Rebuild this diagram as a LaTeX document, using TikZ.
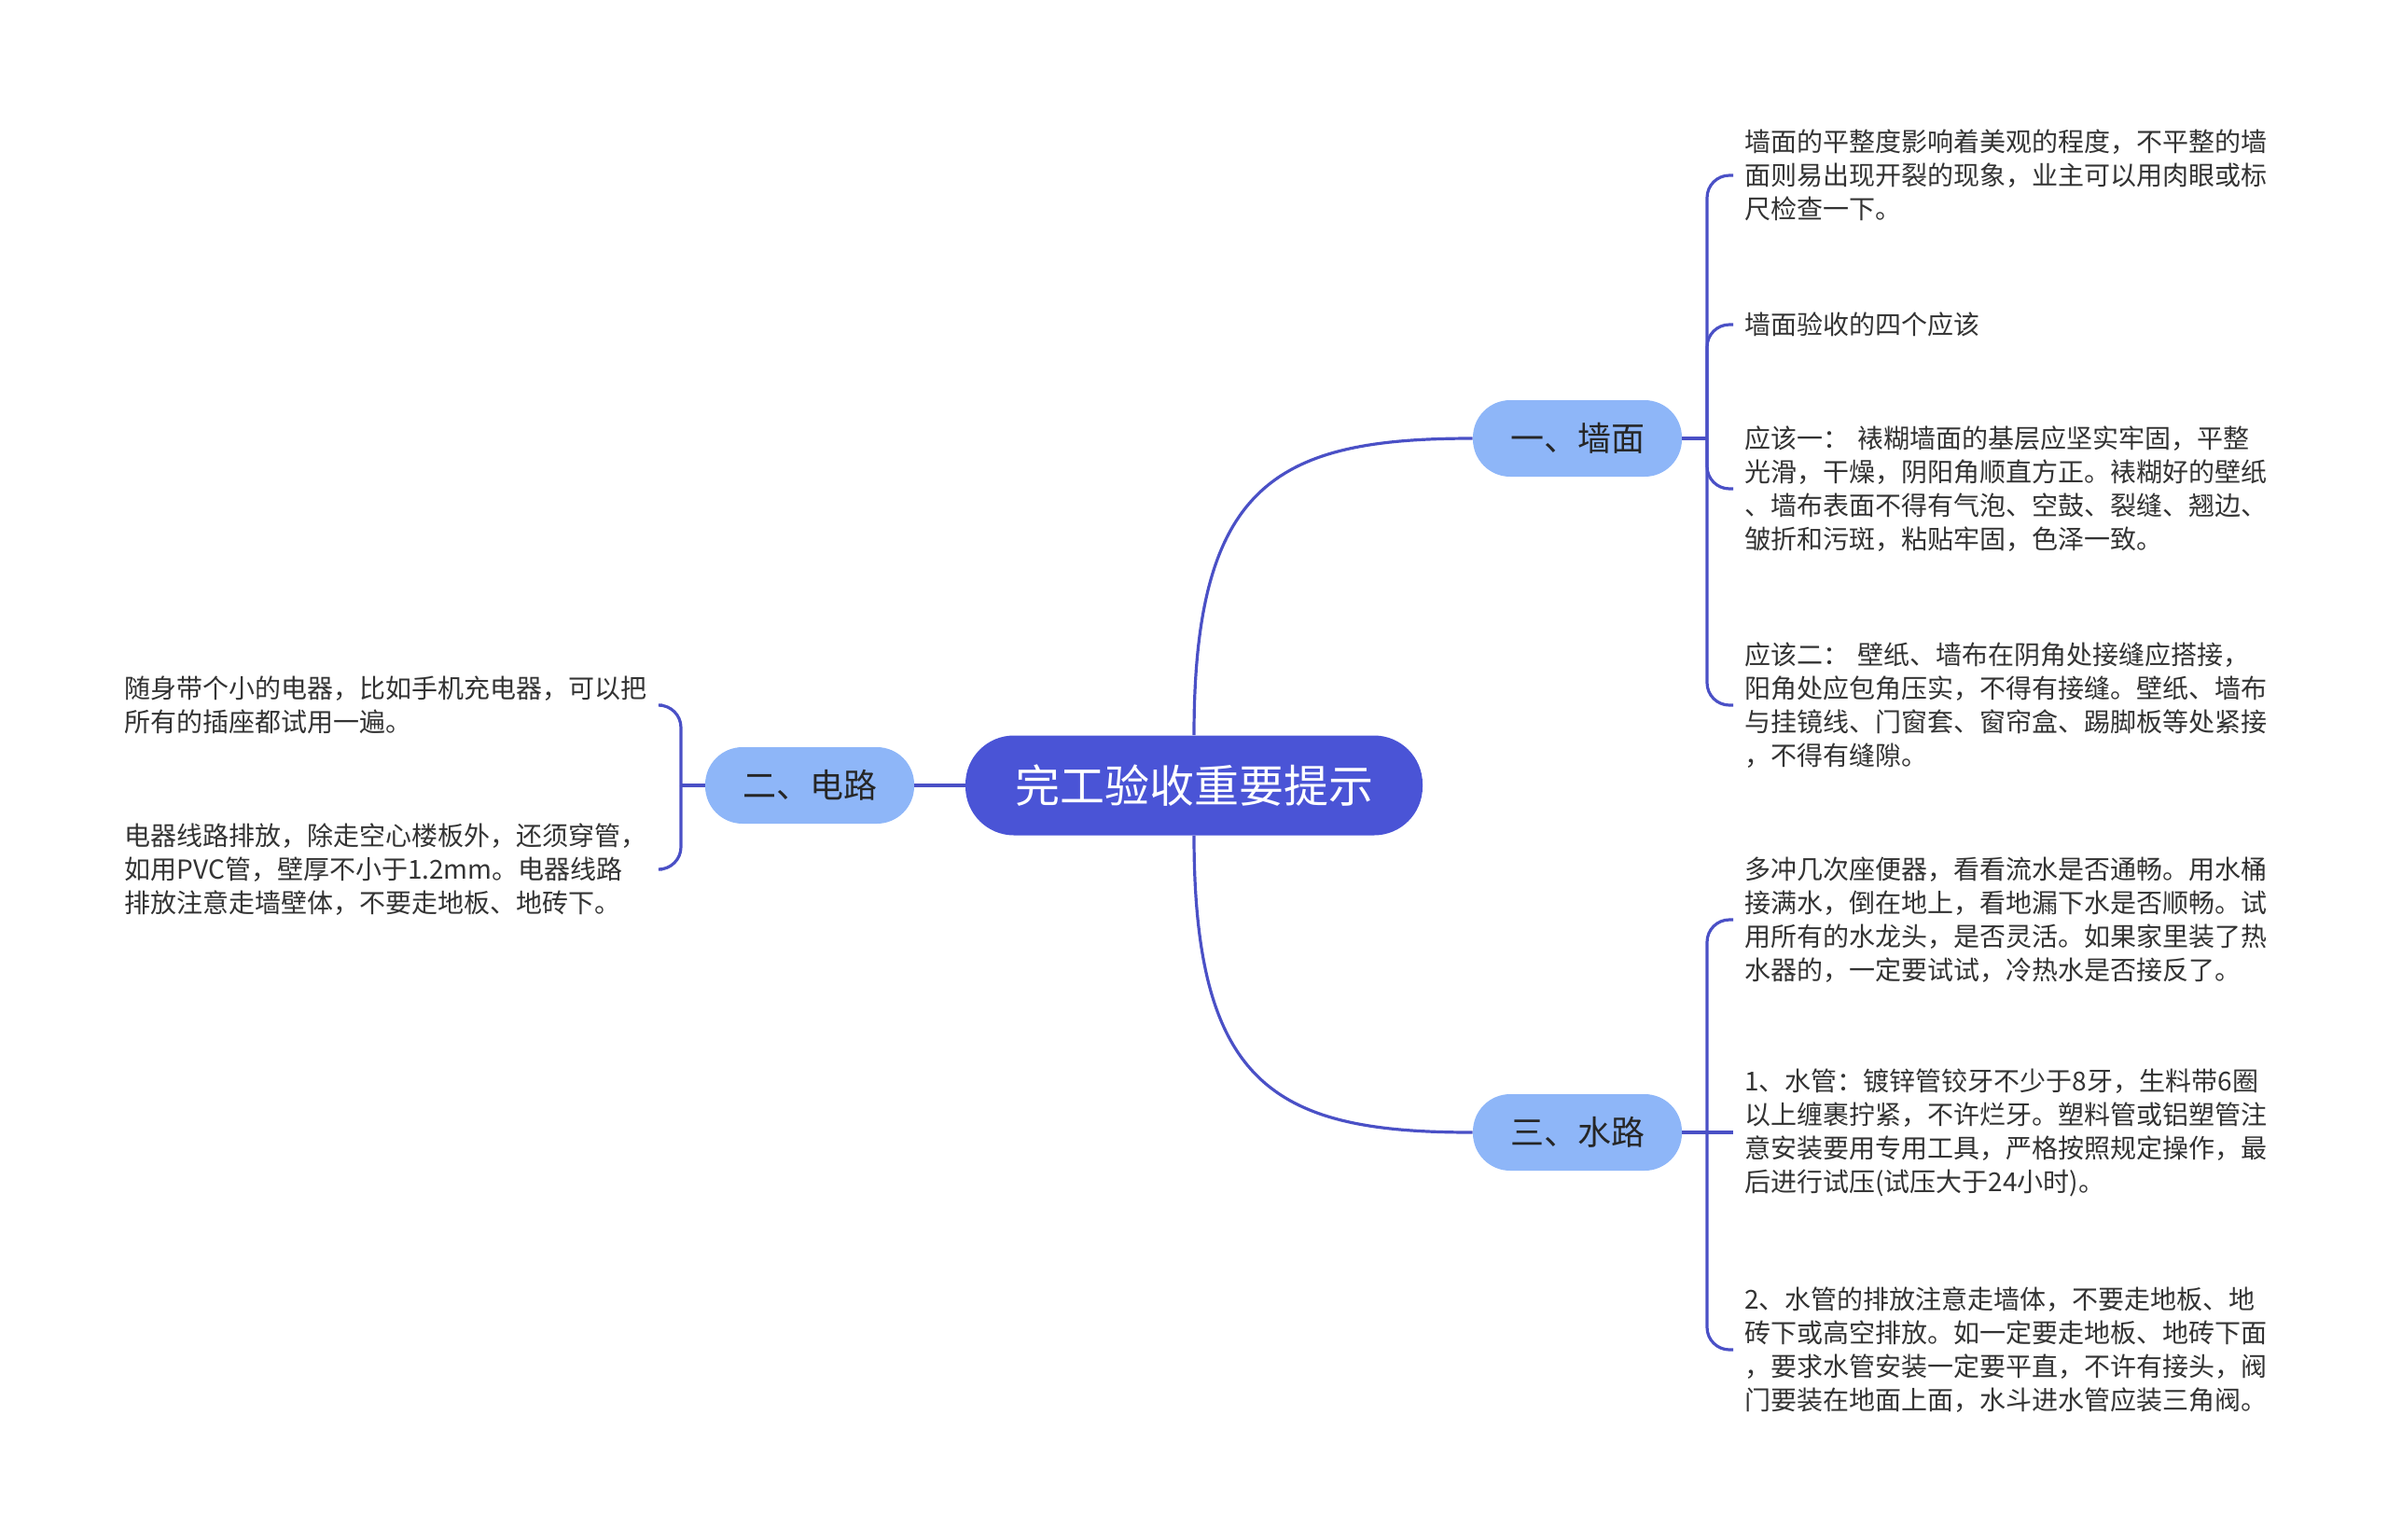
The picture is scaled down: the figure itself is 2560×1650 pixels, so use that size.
\documentclass[tikz,border=0pt]{standalone}
\usepackage{fontspec}
\setmainfont{Noto Sans CJK SC}
\usepackage{xcolor}
\usepackage{tikz}

\definecolor{rootblue}{HTML}{4A54D6}
\definecolor{branchblue}{HTML}{8EB6F8}
\definecolor{linkblue}{HTML}{4A50C6}
\definecolor{leafgray}{HTML}{333333}

\begin{document}
\begin{tikzpicture}[
    x=0.5pt, y=-0.5pt,
    rootbox/.style={rectangle, fill=rootblue, rounded corners=26pt, minimum width=245pt, minimum height=53.5pt, text=white, font=\fontsize{24pt}{28pt}\selectfont},
    branch/.style={rectangle, fill=branchblue, rounded corners=20pt, minimum width=112pt, minimum height=41pt, text=black!85, font=\fontsize{18pt}{22pt}\selectfont},
    leaf/.style={anchor=west, align=left, text width=282pt, inner xsep=6pt, inner ysep=0pt, text=leafgray, font=\fontsize{14pt}{18pt}\selectfont},
    link/.style={draw=linkblue, line width=1.6pt},
    hook/.style={link, rounded corners=12pt}
]
    \useasboundingbox (0,0) rectangle (2560,1650);

    \node (root) [rootbox] at (1280,842) {完工验收重要提示};
    \node (wall) [branch] at (1691,470) {一、墙面};
    \node (elec) [branch] at (868,842) {二、电路};
    \node (water) [branch] at (1691,1214) {三、水路};

    \coordinate (wallhub) at (1830,470);
    \coordinate (elechub) at (730,842);
    \coordinate (waterhub) at (1830,1214);

    \node (wall1) [leaf] at (1858,188) {墙面的平整度影响着美观的程度，不平整的墙\\面则易出现开裂的现象，业主可以用肉眼或标\\尺检查一下。};
    \node (wall2) [leaf] at (1858,348) {墙面验收的四个应该};
    \node (wall3) [leaf] at (1858,524) {应该一： 裱糊墙面的基层应坚实牢固，平整\\光滑，干燥，阴阳角顺直方正。裱糊好的壁纸\\、墙布表面不得有气泡、空鼓、裂缝、翘边、\\皱折和污斑，粘贴牢固，色泽一致。};
    \node (wall4) [leaf] at (1858,756) {应该二： 壁纸、墙布在阴角处接缝应搭接，\\阳角处应包角压实，不得有接缝。壁纸、墙布\\与挂镜线、门窗套、窗帘盒、踢脚板等处紧接\\，不得有缝隙。};

    \node (water1) [leaf] at (1858,986) {多冲几次座便器，看看流水是否通畅。用水桶\\接满水，倒在地上，看地漏下水是否顺畅。试\\用所有的水龙头，是否灵活。如果家里装了热\\水器的，一定要试试，冷热水是否接反了。};
    \node (water2) [leaf] at (1858,1214) {1、水管：镀锌管铰牙不少于8牙，生料带6圈\\以上缠裹拧紧，不许烂牙。塑料管或铝塑管注\\意安装要用专用工具，严格按照规定操作，最\\后进行试压(试压大于24小时)。};
    \node (water3) [leaf] at (1858,1447) {2、水管的排放注意走墙体，不要走地板、地\\砖下或高空排放。如一定要走地板、地砖下面\\，要求水管安装一定要平直，不许有接头，阀\\门要装在地面上面，水斗进水管应装三角阀。};

    \node (elec1) [leaf, anchor=east] at (710,756) {随身带个小的电器，比如手机充电器，可以把\\所有的插座都试用一遍。};
    \node (elec2) [leaf, anchor=east] at (710,932) {电器线路排放，除走空心楼板外，还须穿管，\\如用PVC管，壁厚不小于1.2mm。电器线路\\排放注意走墙壁体，不要走地板、地砖下。};

    \draw [link] (root.north) .. controls +(0,-270) and +(-210,0) .. (wall.west);
    \draw [link] (root.south) .. controls +(0,270) and +(-210,0) .. (water.west);
    \draw [link] (root.west) -- (elec.east);

    \draw [link] (wall.east) -- (wallhub);
    \draw [hook] (wallhub) |- (wall1.west);
    \draw [hook] (wallhub) |- (wall2.west);
    \draw [hook] (wallhub) |- (wall3.west);
    \draw [hook] (wallhub) |- (wall4.west);

    \draw [link] (water.east) -- (waterhub);
    \draw [hook] (waterhub) |- (water1.west);
    \draw [link] (waterhub) -- (water2.west);
    \draw [hook] (waterhub) |- (water3.west);

    \draw [link] (elec.west) -- (elechub);
    \draw [hook] (elechub) |- (elec1.east);
    \draw [hook] (elechub) |- (elec2.east);
\end{tikzpicture}
\end{document}
